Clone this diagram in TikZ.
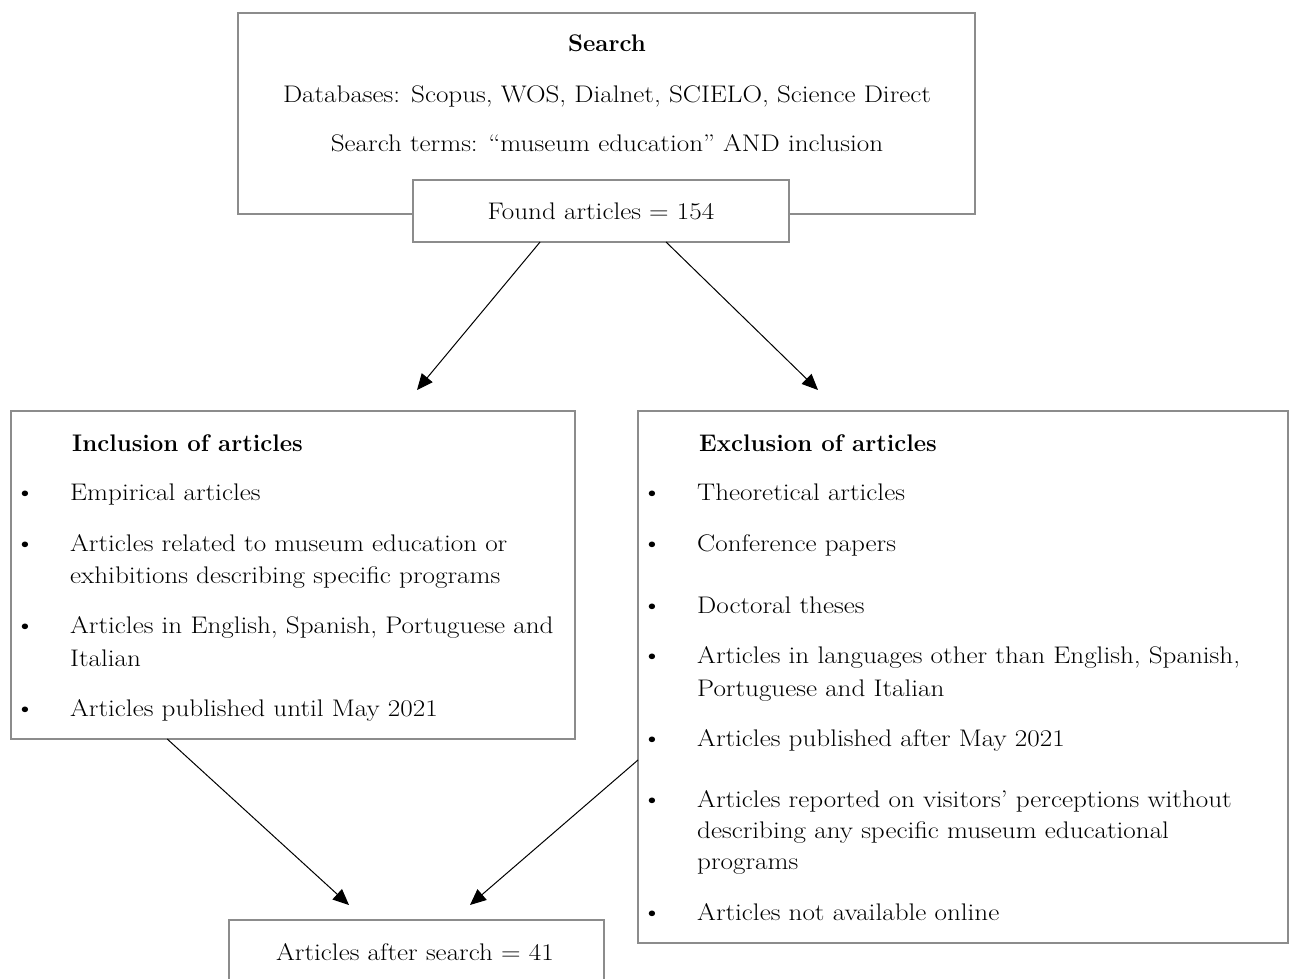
\documentclass[tikz,border=0pt]{standalone}
\usepackage{fontspec}
\setmainfont{Latin Modern Roman}[FakeStretch=1.13, BoldFeatures={FakeStretch=1.0}]
\usetikzlibrary{arrows.meta,calc}
\definecolor{boxgray}{RGB}{140,140,140}
\tikzset{
  box/.style={draw=boxgray, line width=1.3pt, rectangle, anchor=north west, inner sep=0pt, outer sep=0pt, fill=white},
  txt/.style={font=\fontsize{24}{28}\selectfont, inner sep=0pt, anchor=base west},
  ctxt/.style={txt, anchor=base},
  btxt/.style={txt, font=\fontsize{24}{28}\selectfont\bfseries},
  bul/.style={font=\fontsize{25}{28}\selectfont, inner sep=0pt, anchor=base},
  arr/.style={-{Triangle[length=16pt,width=14pt]}, line width=1pt, black},
}
\begin{document}
\begin{tikzpicture}[x=1pt,y=-1pt]
\useasboundingbox (0,0) rectangle (1293,979);
\clip (0,0) rectangle (1293,979);
% boxes
\node[box, minimum width=737pt, minimum height=201pt] (search) at (238,13) {};
\node[box, minimum width=376pt, minimum height=62pt] (found) at (413,180) {};
\node[box, minimum width=564pt, minimum height=328pt] (incl) at (11,411) {};
\node[box, minimum width=650pt, minimum height=532pt] (excl) at (638,411) {};
\node[box, minimum width=375pt, minimum height=90pt] (final) at (229,920) {};
% search texts
\node[btxt, anchor=base] (t1) at (607,52) {Search};
\node[ctxt] (t2) at (607,103) {Databases: Scopus, WOS, Dialnet, SCIELO, Science Direct};
\node[ctxt] (t3) at (607,152) {Search terms: ``museum education'' AND inclusion};
\node[ctxt] (t4) at (601,219) {Found articles = 154};
% inclusion
\node[btxt] (ih) at (72,451) {Inclusion of articles};
\node[bul] (ib1) at (25,500) {\textbullet};
\node[txt] (i1) at (70,500) {Empirical articles};
\node[bul] (ib2) at (25,551) {\textbullet};
\node[txt] (i2a) at (70,551) {Articles related to museum education or};
\node[txt] (i2b) at (70,583) {exhibitions describing specific programs};
\node[bul] (ib3) at (25,633) {\textbullet};
\node[txt] (i3a) at (70,633) {Articles in English, Spanish, Portuguese and};
\node[txt] (i3b) at (70,666) {Italian};
\node[bul] (ib4) at (25,716) {\textbullet};
\node[txt] (i4) at (70,716) {Articles published until May 2021};
% exclusion
\node[btxt] (eh) at (699,451) {Exclusion of articles};
\node[bul] (eb1) at (652,500) {\textbullet};
\node[txt] (e1) at (697,500) {Theoretical articles};
\node[bul] (eb2) at (652,551) {\textbullet};
\node[txt] (e2) at (697,551) {Conference papers};
\node[bul] (eb3) at (652,613) {\textbullet};
\node[txt] (e3) at (697,613) {Doctoral theses};
\node[bul] (eb4) at (652,663) {\textbullet};
\node[txt] (e4a) at (697,663) {Articles in languages other than English, Spanish,};
\node[txt] (e4b) at (697,696) {Portuguese and Italian};
\node[bul] (eb5) at (652,746) {\textbullet};
\node[txt] (e5) at (697,746) {Articles published after May 2021};
\node[bul] (eb6) at (652,807) {\textbullet};
\node[txt] (e6a) at (697,807) {Articles reported on visitors' perceptions without};
\node[txt] (e6b) at (697,838) {describing any specific museum educational};
\node[txt] (e6c) at (697,869) {programs};
\node[bul] (eb7) at (652,920) {\textbullet};
\node[txt] (e7) at (697,920) {Articles not available online};
% final
\node[ctxt] (t5) at (415,960) {Articles after search = 41};
% arrow ends
\coordinate (tipL) at (417,390);
\coordinate (tipR) at (818,390);
\coordinate (tipB1) at (349,905);
\coordinate (tipB2) at (470,905);
% connectors
\draw[arr] ($(found.south west)!0.338!(found.south east)$) -- (tipL);
\draw[arr] ($(found.south west)!0.673!(found.south east)$) -- (tipR);
\draw[arr] ($(incl.south west)!0.277!(incl.south east)$) -- (tipB1);
\draw[arr] ($(excl.north west)!0.656!(excl.south west)$) -- (tipB2);
\end{tikzpicture}
\end{document}
